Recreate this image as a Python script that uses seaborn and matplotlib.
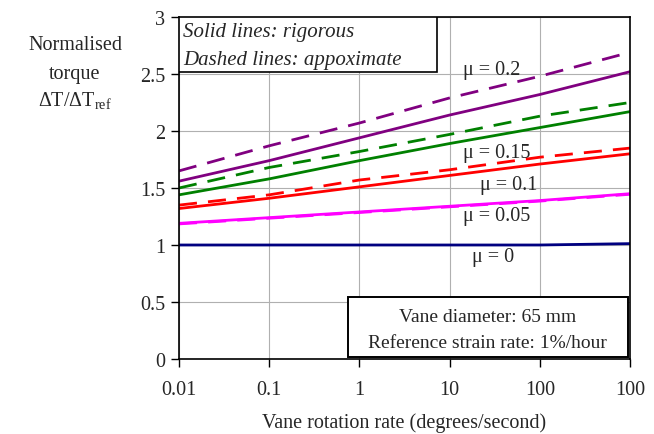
import numpy as np
import pandas as pd
import matplotlib
matplotlib.use("Agg")
import matplotlib.pyplot as plt
from matplotlib.patches import Rectangle
import seaborn as sns

# Vane rotation rate (degrees/second), one point per decade
rate = [0.01, 0.1, 1, 10, 100, 1000]
tick_labels = ["0.01", "0.1", "1", "10", "100", "100"]

# Normalised torque, rigorous solution
rig_mu0 = [1.00, 1.00, 1.00, 1.00, 1.00, 1.012]
rig_mu005 = [1.19, 1.24, 1.29, 1.34, 1.39, 1.45]
rig_mu01 = [1.32, 1.41, 1.51, 1.61, 1.71, 1.80]
rig_mu015 = [1.44, 1.58, 1.74, 1.89, 2.03, 2.17]
rig_mu02 = [1.56, 1.74, 1.94, 2.14, 2.32, 2.52]

# Normalised torque, approximate solution
app_mu005 = [1.185, 1.235, 1.285, 1.335, 1.385, 1.445]
app_mu01 = [1.35, 1.44, 1.57, 1.66, 1.77, 1.85]
app_mu015 = [1.50, 1.68, 1.82, 1.97, 2.13, 2.25]
app_mu02 = [1.65, 1.87, 2.07, 2.29, 2.48, 2.69]

mu_labels = ["\u03bc = 0", "\u03bc = 0.05", "\u03bc = 0.1", "\u03bc = 0.15", "\u03bc = 0.2"]

sns.set_theme(style="white")
plt.rcParams["font.family"] = ["Liberation Serif", "DejaVu Serif"]
plt.rcParams["mathtext.fontset"] = "custom"
plt.rcParams["mathtext.rm"] = "Liberation Serif"

fs = 14.5

fig = plt.figure(figsize=(6.54, 4.35), dpi=100)
ax = fig.add_axes([179 / 654, 1 - 360 / 435, (630 - 179) / 654, (360 - 18) / 435])

lw = 2.0
dash = (6.5, 4)
series = [
    (rig_mu0, "#000080", None),
    (app_mu005, "#FF00FF", dash),
    (rig_mu005, "#FF00FF", None),
    (app_mu01, "#FF0000", dash),
    (rig_mu01, "#FF0000", None),
    (app_mu015, "#008000", dash),
    (rig_mu015, "#008000", None),
    (app_mu02, "#800080", dash),
    (rig_mu02, "#800080", None),
]
for vals, col, ds in series:
    df = pd.DataFrame({"rate": rate, "torque": vals})
    line = sns.lineplot(data=df, x="rate", y="torque", color=col, lw=lw, ax=ax,
                        legend=False)
    if ds is not None:
        line.lines[-1].set_dashes(ds)

ax.set_xscale("log")
ax.set_xlim(0.01, 1000)
ax.set_ylim(0, 3)
ax.set_xticks(rate)
ax.set_xticklabels(tick_labels)
ax.minorticks_off()
ax.set_yticks([0, 0.5, 1, 1.5, 2, 2.5, 3])
ax.set_yticklabels(["0", "0.5", "1", "1.5", "2", "2.5", "3"])
ax.tick_params(axis="both", which="major", direction="out", length=6, width=1,
               color="black", labelsize=fs, pad=4, bottom=True, left=True)
ax.tick_params(axis="x", pad=9)
ax.grid(True, color="#b0b0b0", lw=0.8)
ax.set_axisbelow(True)
for s in ax.spines.values():
    s.set_color("black")
    s.set_linewidth(1.2)
ax.set_xlabel("Vane rotation rate (degrees/second)", fontsize=fs, labelpad=10)
ax.set_ylabel("")

# Curve labels
lab_pos = [(493, 258), (497, 217), (509, 186), (497, 154), (492, 70)]
for txt, (px, py) in zip(mu_labels, lab_pos):
    fig.text(px / 654, 1 - py / 435, txt, ha="center", va="center", fontsize=fs)

# Y-axis title, written horizontally
fig.text(75 / 654, 1 - 46 / 435, "Normalised", ha="center", va="center", fontsize=fs)
fig.text(75 / 654, 1 - 74 / 435, "torque", ha="center", va="center", fontsize=fs)
fig.text(75 / 654, 1 - 101 / 435, "\u0394T/\u0394T$_{\\rm ref}$", ha="center",
         va="center", fontsize=fs)

# Line style key, boxed in the top-left corner
ax.add_patch(Rectangle((0.0, 0.839), 0.572, 0.161, transform=ax.transAxes,
                       fc="white", ec="black", lw=1.2, zorder=5))
ax.text(0.009, 1 - 15 / 342, "Solid lines: rigorous", fontstyle="italic",
        transform=ax.transAxes, fontsize=fs + 0.5, ha="left", va="center", zorder=6)
ax.text(0.009, 1 - 42 / 342, "Dashed lines: appoximate", fontstyle="italic",
        transform=ax.transAxes, fontsize=fs + 0.5, ha="left", va="center", zorder=6)

# Test conditions, boxed in the bottom-right corner
ax.add_patch(Rectangle((0.375, 0.006), 0.6206, 0.175, transform=ax.transAxes,
                       fc="white", ec="black", lw=1.4, zorder=5))
ax.text(0.685, (360 - 318) / 342, "Vane diameter: 65 mm", transform=ax.transAxes,
        fontsize=fs - 0.5, ha="center", va="center", zorder=6)
ax.text(0.685, (360 - 344) / 342, "Reference strain rate: 1%/hour", transform=ax.transAxes,
        fontsize=fs - 0.5, ha="center", va="center", zorder=6)

fig.savefig("out.png", dpi=100)
